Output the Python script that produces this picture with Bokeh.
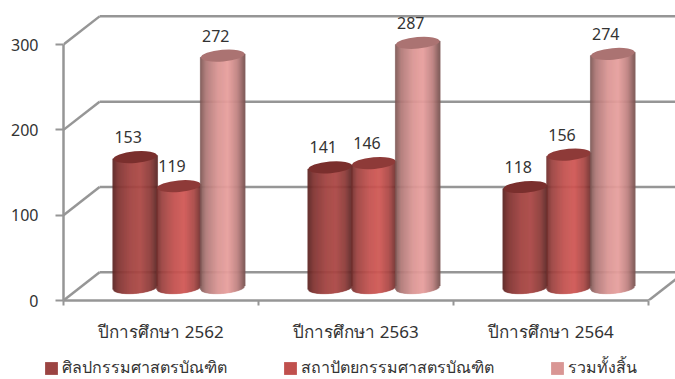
import numpy as np
from bokeh.plotting import figure
from bokeh.layouts import column
from bokeh.embed import file_html
from bokeh.resources import INLINE
from bokeh.core.properties import value
from bokeh.models import FixedTicker, Range1d, Legend, LegendItem

categories = ["ปีการศึกษา 2562", "ปีการศึกษา 2563", "ปีการศึกษา 2564"]
series_names = ["ศิลปกรรมศาสตรบัณฑิต", "สถาปัตยกรรมศาสตรบัณฑิต", "รวมทั้งสิ้น"]
arts = [153, 141, 118]
architecture = [119, 146, 156]
total = [272, 287, 274]
y_ticks = [0, 100, 200, 300]

series = [arts, architecture, total]
legend_colors = ["#9b4442", "#c0504d", "#d99694"]
top_colors = ["#7a2f2d", "#8e3a38", "#ab7372"]
peak_colors = [(172, 72, 69), (208, 88, 85), (232, 160, 158)]

FONT = "Noto Sans"
TEXT = "#333333"
GRID = "#969696"
DX, DY = 0.185, 33          # depth of the box, in axis units
BASE = 15                   # the bars stand this far inside the floor
BAR_W = 0.2245
GROUP_SHIFT = 0.592
SEMI_Y = 6.8                # ellipse half height, axis units
TILT = 2.0                  # ellipse rise to the right, axis units
X_END = 3.138
Y_END = 351.6

p = figure(width=675, height=350, output_backend="svg", toolbar_location=None,
           x_range=Range1d(0, X_END), y_range=Range1d(0, Y_END),
           min_border_left=63, min_border_right=0, min_border_top=0, min_border_bottom=50)
p.outline_line_color = None
p.xgrid.visible = False
p.ygrid.visible = False
p.background_fill_color = "white"

# Box walls
for v in y_ticks:
    p.segment([0], [v], [DX], [v + DY], line_color=GRID, line_width=2.5)
    p.segment([DX], [v + DY], [X_END], [v + DY], line_color=GRID, line_width=2.5)
p.segment([3], [0], [3 + DX], [DY], line_color=GRID, line_width=2.5)

# Axes
ax = p.xaxis[0]
ax.ticker = FixedTicker(ticks=[0.5, 1.5, 2.5], minor_ticks=[0, 1, 2, 3])
ax.major_label_overrides = {0.5: categories[0], 1.5: categories[1], 2.5: categories[2]}
ax.major_tick_out = 0
ax.major_tick_in = 0
ax.minor_tick_out = 5
ax.minor_tick_in = 0
ax.minor_tick_line_color = GRID
ax.minor_tick_line_width = 2
ax.axis_line_color = GRID
ax.axis_line_width = 2.5
ax.bounds = (0, 3)
ax.major_label_standoff = 14
ax.major_label_text_font = FONT
ax.major_label_text_font_size = "17px"
ax.major_label_text_color = TEXT

ay = p.yaxis[0]
ay.ticker = FixedTicker(ticks=y_ticks)
ay.minor_tick_line_color = None
ay.major_tick_out = 8
ay.major_tick_in = 0
ay.major_tick_line_color = GRID
ay.major_tick_line_width = 2
ay.axis_line_color = GRID
ay.axis_line_width = 2.5
ay.bounds = (0, 300)
ay.major_label_standoff = 17
ay.major_label_text_font = FONT
ay.major_label_text_font_size = "16px"
ay.major_label_text_color = TEXT

# Cylinders, shaded in narrow strips
t = np.linspace(-1, 1, 45)
shade = np.interp(t, [-1, -0.75, -0.2, 0.25, 0.7, 1], [0.55, 0.76, 0.94, 1.0, 0.82, 0.55])
for s, vals in enumerate(series):
    r0, g0, b0 = peak_colors[s]
    cols = ["#%02x%02x%02x" % (int(r0 * k), int(g0 * k), int(b0 * k)) for k in shade]
    for c, v in enumerate(vals):
        cx = c + GROUP_SHIFT + (s - 1) * BAR_W
        edges = cx + t * BAR_W / 2
        sag = SEMI_Y * np.sqrt(1 - t ** 2)
        p.quad(left=edges - BAR_W / 88, right=edges + BAR_W / 88,
               top=v + BASE + t * TILT,
               bottom=BASE - sag + t * TILT,
               fill_color=cols, line_color=cols, line_width=0.5)
        p.ellipse(x=[cx], y=[v + BASE], width=[BAR_W], height=[2 * SEMI_Y],
                  width_units="data", height_units="data", angle=0.085,
                  fill_color=top_colors[s], line_color=None)

# Value labels
for s, vals in enumerate(series):
    xs = [c + GROUP_SHIFT + (s - 1) * BAR_W for c in range(len(vals))]
    ys = [v + BASE for v in vals]
    p.text(xs, ys, text=[str(v) for v in vals], x_offset=-7, y_offset=-20,
           text_align="center", text_baseline="middle",
           text_font=value(FONT), text_font_size="16px", text_color=TEXT)

# Legend strip: the swatch glyphs lie outside the range, only their keys show
q = figure(width=675, height=29, output_backend="svg", toolbar_location=None,
           x_range=Range1d(0, 1), y_range=Range1d(0, 1),
           x_axis_location=None, y_axis_location=None,
           min_border_left=0, min_border_right=0, min_border_top=0, min_border_bottom=0)
q.grid.visible = False
q.outline_line_color = None
swatches = [q.quad(left=[2], right=[3], top=[3], bottom=[2], fill_color=c, line_color=None)
            for c in legend_colors]
legend = Legend(items=[LegendItem(label=n, renderers=[r]) for n, r in zip(series_names, swatches)],
                orientation="horizontal", location=(43, -1), spacing=55,
                glyph_width=16, glyph_height=16, label_standoff=3, label_height=16,
                label_text_line_height=1.0,
                padding=0, margin=0, border_line_color=None, background_fill_alpha=0,
                label_text_font=FONT, label_text_font_size="16px", label_text_color=TEXT)
q.add_layout(legend, "center")

page = column(p, column(q, spacing=0), spacing=0)
open("out.html", "w").write(file_html(page, INLINE))
